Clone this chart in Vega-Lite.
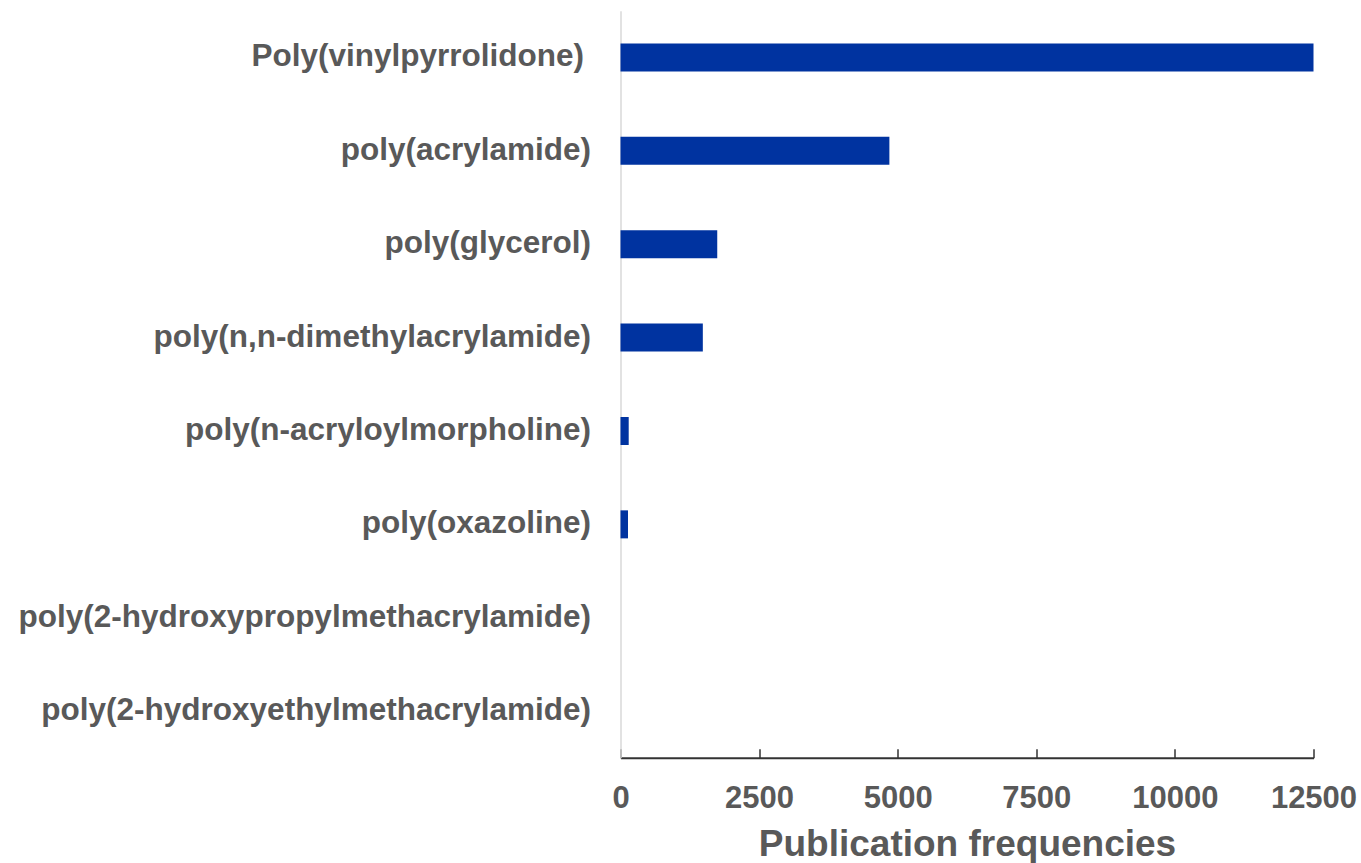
{
  "$schema": "https://vega.github.io/schema/vega-lite/v6.json",
  "width": 693,
  "height": 747,
  "autosize": {"type": "none"},
  "padding": {"left": 620.5, "top": 10.8, "right": 47.5, "bottom": 105.2},
  "background": "#ffffff",
  "config": {"view": {"stroke": null}},
  "data": {
    "values": [
      {"polymer": "Poly(vinylpyrrolidone)", "count": 12500},
      {"polymer": "poly(acrylamide)", "count": 4850},
      {"polymer": "poly(glycerol)", "count": 1745},
      {"polymer": "poly(n,n-dimethylacrylamide)", "count": 1485},
      {"polymer": "poly(n-acryloylmorpholine)", "count": 148},
      {"polymer": "poly(oxazoline)", "count": 135},
      {"polymer": "poly(2-hydroxypropylmethacrylamide)", "count": 0},
      {"polymer": "poly(2-hydroxyethylmethacrylamide)", "count": 0}
    ]
  },
  "mark": {"type": "bar", "color": "#0033a0"},
  "encoding": {
    "y": {
      "field": "polymer",
      "type": "nominal",
      "sort": null,
      "scale": {"paddingInner": 0.7, "paddingOuter": 0.35},
      "axis": {
        "title": null,
        "ticks": false,
        "labelFont": "Liberation Sans",
        "labelFontWeight": "bold",
        "labelFontSize": 31.5,
        "labelColor": "#595959",
        "labelPadding": {"condition": {"test": "datum.value === 'Poly(vinylpyrrolidone)'", "value": 37}, "value": 30},
        "labelLimit": 800,
        "domainColor": "#d9d9d9",
        "domainWidth": 1.5,
        "grid": false
      }
    },
    "x": {
      "field": "count",
      "type": "quantitative",
      "scale": {"domain": [0, 12500], "nice": false},
      "axis": {
        "title": "Publication frequencies",
        "values": [0, 2500, 5000, 7500, 10000, 12500],
        "format": "d",
        "grid": false,
        "tickSize": -9,
        "tickColor": "#333333",
        "tickWidth": 1.5,
        "domainColor": "#333333",
        "domainWidth": 2,
        "labelFont": "Liberation Sans",
        "labelFontWeight": "bold",
        "labelFontSize": 31,
        "labelColor": "#595959",
        "labelPadding": 35,
        "labelFlush": false,
        "labelOverlap": false,
        "titleFont": "Liberation Sans",
        "titleFontWeight": "bold",
        "titleFontSize": 37,
        "titleColor": "#595959",
        "titlePadding": 13
      }
    }
  }
}
